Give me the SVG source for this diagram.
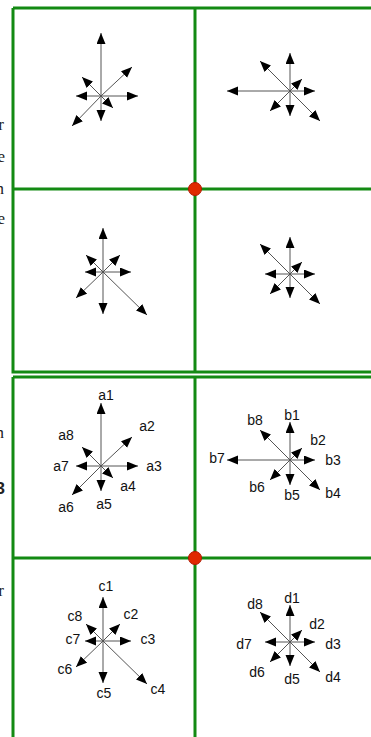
<svg xmlns="http://www.w3.org/2000/svg" width="371" height="737" viewBox="0 0 371 737">
<style>
.frame{stroke:#138a13;stroke-width:3;fill:none}
.ar{stroke:#555;stroke-width:1;fill:none;marker-end:url(#ah)}
.lb{font-family:"Liberation Sans",Arial,sans-serif;font-size:14px;fill:#111;text-anchor:middle}
.frag{font-family:"Liberation Serif",serif;font-size:17px;fill:#222;text-anchor:end}
.dot{fill:#e02a00;stroke:#b01800;stroke-width:1}
</style>
<defs>
<marker id="ah" markerUnits="userSpaceOnUse" markerWidth="12" markerHeight="10" refX="11" refY="4.5" orient="auto">
<path d="M0,0 L11,4.5 L0,9 z" fill="#000"/>
</marker>
</defs>
<rect width="371" height="737" fill="#fff"/>
<g id="page-fragments">
<text class="frag" x="4" y="130">r</text>
<text class="frag" x="5" y="162">e</text>
<text class="frag" x="4" y="194">n</text>
<text class="frag" x="5" y="224">e</text>
<text class="frag" x="4" y="438">n</text>
<text class="frag" x="5" y="494" style="font-weight:bold;font-family:'Liberation Sans',sans-serif">3</text>
<text class="frag" x="4" y="596">r</text>
</g>
<g id="frames">
<path class="frame" d="M13,8 H371 M13,8 V372 H371 M195,8 V372 M13,189 H371"/>
<path class="frame" d="M13,377 H371 M13,377 V737 M195,377 V737 M13,558 H371"/>
</g>
<g id="connectors">
<g id="star-top-left">
<line class="ar" x1="101" y1="96" x2="101" y2="33"/>
<line class="ar" x1="101" y1="96" x2="132" y2="67"/>
<line class="ar" x1="101" y1="96" x2="138" y2="96"/>
<line class="ar" x1="101" y1="96" x2="113" y2="108"/>
<line class="ar" x1="101" y1="96" x2="101" y2="121"/>
<line class="ar" x1="101" y1="96" x2="72" y2="126"/>
<line class="ar" x1="101" y1="96" x2="76" y2="96"/>
<line class="ar" x1="101" y1="96" x2="82" y2="77"/>
</g>
<g id="star-top-right">
<line class="ar" x1="290" y1="91" x2="290" y2="53"/>
<line class="ar" x1="290" y1="91" x2="302" y2="79"/>
<line class="ar" x1="290" y1="91" x2="315" y2="91"/>
<line class="ar" x1="290" y1="91" x2="320" y2="121"/>
<line class="ar" x1="290" y1="91" x2="290" y2="116"/>
<line class="ar" x1="290" y1="91" x2="270" y2="111"/>
<line class="ar" x1="290" y1="91" x2="227" y2="91"/>
<line class="ar" x1="290" y1="91" x2="260" y2="61"/>
</g>
<g id="star-mid-left">
<line class="ar" x1="103" y1="272" x2="103" y2="228"/>
<line class="ar" x1="103" y1="272" x2="120" y2="255"/>
<line class="ar" x1="103" y1="272" x2="131" y2="272"/>
<line class="ar" x1="103" y1="272" x2="147" y2="315"/>
<line class="ar" x1="103" y1="272" x2="103" y2="314"/>
<line class="ar" x1="103" y1="272" x2="76" y2="298"/>
<line class="ar" x1="103" y1="272" x2="85" y2="272"/>
<line class="ar" x1="103" y1="272" x2="86" y2="255"/>
</g>
<g id="star-mid-right">
<line class="ar" x1="290" y1="274" x2="290" y2="237"/>
<line class="ar" x1="290" y1="274" x2="302" y2="262"/>
<line class="ar" x1="290" y1="274" x2="315" y2="274"/>
<line class="ar" x1="290" y1="274" x2="320" y2="304"/>
<line class="ar" x1="290" y1="274" x2="290" y2="298"/>
<line class="ar" x1="290" y1="274" x2="270" y2="294"/>
<line class="ar" x1="290" y1="274" x2="265" y2="274"/>
<line class="ar" x1="290" y1="274" x2="260" y2="244"/>
</g>
<g id="star-a">
<line class="ar" x1="101" y1="466" x2="101" y2="403"/>
<line class="ar" x1="101" y1="466" x2="132" y2="437"/>
<line class="ar" x1="101" y1="466" x2="138" y2="466"/>
<line class="ar" x1="101" y1="466" x2="113" y2="478"/>
<line class="ar" x1="101" y1="466" x2="101" y2="491"/>
<line class="ar" x1="101" y1="466" x2="72" y2="495"/>
<line class="ar" x1="101" y1="466" x2="76" y2="466"/>
<line class="ar" x1="101" y1="466" x2="82" y2="447"/>
</g>
<g id="star-b">
<line class="ar" x1="290" y1="460" x2="290" y2="422"/>
<line class="ar" x1="290" y1="460" x2="302" y2="448"/>
<line class="ar" x1="290" y1="460" x2="315" y2="460"/>
<line class="ar" x1="290" y1="460" x2="320" y2="490"/>
<line class="ar" x1="290" y1="460" x2="290" y2="485"/>
<line class="ar" x1="290" y1="460" x2="270" y2="480"/>
<line class="ar" x1="290" y1="460" x2="227" y2="460"/>
<line class="ar" x1="290" y1="460" x2="260" y2="430"/>
</g>
<g id="star-c">
<line class="ar" x1="103" y1="641" x2="103" y2="597"/>
<line class="ar" x1="103" y1="641" x2="120" y2="624"/>
<line class="ar" x1="103" y1="641" x2="131" y2="641"/>
<line class="ar" x1="103" y1="641" x2="147" y2="684"/>
<line class="ar" x1="103" y1="641" x2="103" y2="683"/>
<line class="ar" x1="103" y1="641" x2="76" y2="667"/>
<line class="ar" x1="103" y1="641" x2="85" y2="641"/>
<line class="ar" x1="103" y1="641" x2="86" y2="624"/>
</g>
<g id="star-d">
<line class="ar" x1="290" y1="642" x2="290" y2="605"/>
<line class="ar" x1="290" y1="642" x2="302" y2="630"/>
<line class="ar" x1="290" y1="642" x2="315" y2="642"/>
<line class="ar" x1="290" y1="642" x2="320" y2="672"/>
<line class="ar" x1="290" y1="642" x2="290" y2="666"/>
<line class="ar" x1="290" y1="642" x2="270" y2="662"/>
<line class="ar" x1="290" y1="642" x2="265" y2="642"/>
<line class="ar" x1="290" y1="642" x2="260" y2="612"/>
</g>
</g>
<g id="labels-a">
<text class="lb" x="106" y="400">a1</text>
<text class="lb" x="147" y="431">a2</text>
<text class="lb" x="154" y="471">a3</text>
<text class="lb" x="128" y="491">a4</text>
<text class="lb" x="104" y="509">a5</text>
<text class="lb" x="66" y="512">a6</text>
<text class="lb" x="61" y="471">a7</text>
<text class="lb" x="66" y="440">a8</text>
</g>
<g id="labels-b">
<text class="lb" x="292" y="420">b1</text>
<text class="lb" x="318" y="445">b2</text>
<text class="lb" x="333" y="465">b3</text>
<text class="lb" x="333" y="498">b4</text>
<text class="lb" x="292" y="500">b5</text>
<text class="lb" x="257" y="492">b6</text>
<text class="lb" x="217" y="463">b7</text>
<text class="lb" x="255" y="425">b8</text>
</g>
<g id="labels-c">
<text class="lb" x="106" y="591">c1</text>
<text class="lb" x="131" y="619">c2</text>
<text class="lb" x="148" y="644">c3</text>
<text class="lb" x="158" y="694">c4</text>
<text class="lb" x="104" y="698">c5</text>
<text class="lb" x="65" y="674">c6</text>
<text class="lb" x="73" y="644">c7</text>
<text class="lb" x="75" y="621">c8</text>
</g>
<g id="labels-d">
<text class="lb" x="292" y="603">d1</text>
<text class="lb" x="317" y="629">d2</text>
<text class="lb" x="333" y="649">d3</text>
<text class="lb" x="333" y="682">d4</text>
<text class="lb" x="292" y="684">d5</text>
<text class="lb" x="257" y="677">d6</text>
<text class="lb" x="244" y="649">d7</text>
<text class="lb" x="255" y="609">d8</text>
</g>
<g id="junctions">
<circle class="dot" cx="195" cy="189" r="6.5"/>
<circle class="dot" cx="195" cy="558" r="6.5"/>
</g>
</svg>
